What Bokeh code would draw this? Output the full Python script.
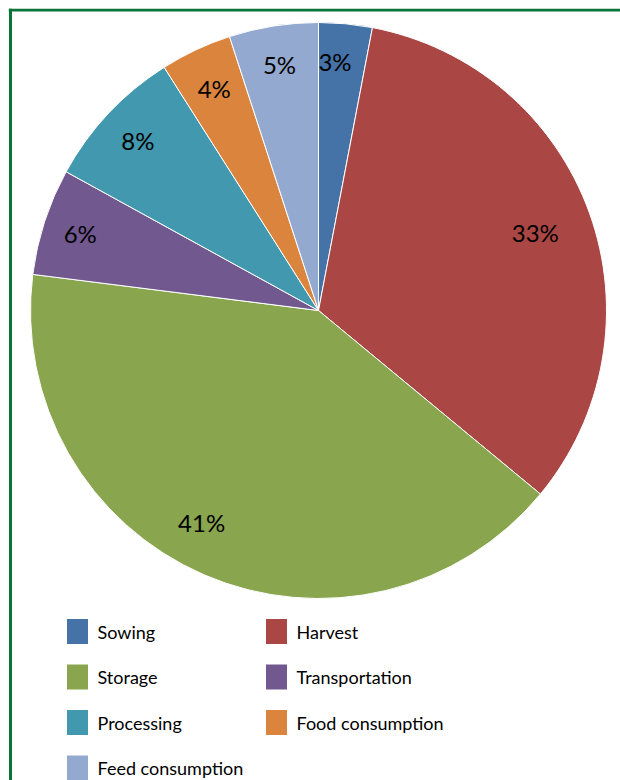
import numpy as np
from bokeh.plotting import figure
from bokeh.models import Range1d, ColumnDataSource, Span
from bokeh.core.properties import value
from bokeh.embed import file_html
from bokeh.resources import INLINE

categories = ["Sowing", "Harvest", "Storage", "Transportation",
              "Processing", "Food consumption", "Feed consumption"]
shares = [3, 33, 41, 6, 8, 4, 5]
colors = ["#4572A7", "#AA4643", "#89A54E", "#71588F",
          "#4198AF", "#DB843D", "#93A9CF"]

W, H = 612, 772
p = figure(width=W + 8, height=H + 8, x_range=Range1d(0, W), y_range=Range1d(0, H),
           output_backend="svg", toolbar_location=None,
           min_border_left=8, min_border_top=8, min_border_right=0, min_border_bottom=0)
p.axis.visible = False
p.grid.visible = False
p.outline_line_color = None
p.background_fill_color = "white"
p.border_fill_color = "white"

green = "#0a7337"
p.add_layout(Span(location=H - 1.5, dimension="width", line_color=green, line_width=3))
p.add_layout(Span(location=2, dimension="height", line_color=green, line_width=3))

cx, cy, R = 310, 470, 288
frac = np.array(shares, dtype=float) / sum(shares)
ends = np.cumsum(frac) * 2 * np.pi
starts = ends - frac * 2 * np.pi

src = ColumnDataSource(dict(start=np.pi / 2 - starts, end=np.pi / 2 - ends,
                            color=colors, cat=categories))
p.wedge(x=cx, y=cy, radius=R, start_angle="start", end_angle="end",
        direction="clock", fill_color="color", line_color="white",
        line_width=1, source=src)

# label placement (style tweaks per slice)
lab_r = np.array([0.865, 0.80, 0.84, 0.87, 0.86, 0.85, 0.865]) * R
lab_da = np.radians([-1.6, 0, 5.5, 0, 0, 0, 0])
mid = (starts + ends) / 2 + lab_da
labels = [f"{s}%" for s in shares]
p.text(x=cx + lab_r * np.sin(mid), y=cy + lab_r * np.cos(mid), text=labels,
       text_align="center", text_baseline="middle", text_color="black",
       text_font=value("Lato"), text_font_size="24px")

# legend, drawn row by row in two columns
idx = np.arange(len(categories))
col = idx % 2
row = idx // 2
sq_x = np.where(col == 0, 69, 268)
sq_y = 149 - row * 45.5
p.rect(x=sq_x, y=sq_y, width=21, height=25, fill_color=colors, line_color=None)
p.text(x=sq_x + 20, y=sq_y, text=categories, text_align="left",
       text_baseline="middle", text_color="#000000",
       text_font=value("Lato"), text_font_size="18px")

open("out.html", "w").write(file_html(p, INLINE))
